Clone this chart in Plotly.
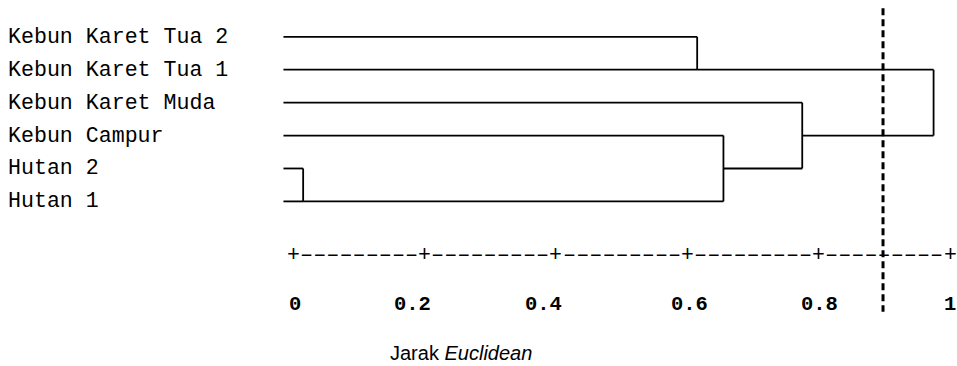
import plotly.graph_objects as go

# ---------------- data ----------------
labels = ["Kebun Karet Tua 2", "Kebun Karet Tua 1", "Kebun Karet Muda",
          "Kebun Campur", "Hutan 2", "Hutan 1"]
# agglomeration schedule (node ids: leaves 0..5, merges 6..10)
merge_a = [4, 0, 3, 2, 7]
merge_b = [5, 1, 6, 8, 9]
merge_dist = [0.015, 0.615, 0.655, 0.775, 0.975]
cut_distance = 0.898
tick_values = [0, 0.2, 0.4, 0.6, 0.8, 1.0]
tick_labels = ["0", "0.2", "0.4", "0.6", "0.8", "1"]
axis_title = "Jarak <i>Euclidean</i>"

# ---------------- layout constants ----------------
W, H = 957, 366
X0, XSCALE = 293.3, 656.7        # pixel of distance 0, pixels per unit
Y0, YSTEP = 36.8, 32.92          # pixel of first row, pixels per row
leaf_start = -0.015
axis_row = 6.63
ticklab_row = 8.12
title_row = 9.62
cut_top, cut_bottom = -0.87, 8.35
tick_shift = [2, -12, -12, 2, 1, 0]
mono = "Liberation Mono"
LW = 1.8

xr = [-X0 / XSCALE, (W - X0) / XSCALE]
yr = [(H - Y0) / YSTEP, -Y0 / YSTEP]

# ---------------- build dendrogram ----------------
n = len(labels)
node_y = {i: i for i in range(n)}
node_x = {i: leaf_start for i in range(n)}
xs, ys = [], []
for k, (a, b, d) in enumerate(zip(merge_a, merge_b, merge_dist)):
    nid = n + k
    for c in (a, b):
        xs += [node_x[c], d, None]
        ys += [node_y[c], node_y[c], None]
    xs += [d, d, None]
    ys += [node_y[a], node_y[b], None]
    mid = (node_y[a] + node_y[b]) / 2
    node_y[nid] = int(-(-mid // 1))  # ceil
    node_x[nid] = d

fig = go.Figure()
fig.add_trace(go.Scatter(x=xs, y=ys, mode="lines",
                         line=dict(color="black", width=LW, shape="linear"),
                         hoverinfo="skip", showlegend=False))

# cut line
fig.add_shape(type="line", x0=cut_distance, x1=cut_distance,
              y0=cut_top, y1=cut_bottom, xref="x", yref="y",
              line=dict(color="black", width=3, dash="7px,4px"))

ann = []
# leaf labels
for i, lab in enumerate(labels):
    ann.append(dict(x=xr[0], y=i, xref="x", yref="y", text=lab,
                    showarrow=False, xanchor="left", yanchor="middle",
                    xshift=6, font=dict(family=mono, size=21.6, color="black")))
# text axis: '+' at ticks, dashes between
for t in tick_values:
    ann.append(dict(x=t, y=axis_row, xref="x", yref="y", text="+",
                    showarrow=False, xanchor="center", yanchor="middle",
                    font=dict(family=mono, size=21.5, color="black")))
for t0, t1 in zip(tick_values[:-1], tick_values[1:]):
    ann.append(dict(x=(t0 + t1) / 2, y=axis_row, xref="x", yref="y",
                    text="\u2013" * 9, showarrow=False, xanchor="center",
                    yanchor="middle",
                    font=dict(family=mono, size=21.9, color="black")))
# tick labels
for t, lab, s in zip(tick_values, tick_labels, tick_shift):
    ann.append(dict(x=t, y=ticklab_row, xref="x", yref="y",
                    text="<b>" + lab + "</b>", showarrow=False,
                    xanchor="center", yanchor="middle", xshift=s,
                    font=dict(family=mono, size=20.5, color="black")))
# axis title
ann.append(dict(x=0.256, y=title_row, xref="x", yref="y", text=axis_title,
                showarrow=False, xanchor="center", yanchor="middle",
                font=dict(family="Liberation Sans, Arial", size=20,
                          color="black")))

fig.update_layout(
    width=W, height=H,
    margin=dict(l=0, r=0, t=0, b=0),
    paper_bgcolor="white", plot_bgcolor="white",
    xaxis=dict(range=xr, visible=False, fixedrange=True),
    yaxis=dict(range=yr, visible=False, fixedrange=True),
    annotations=ann,
    showlegend=False,
)

fig.write_html("out.html",
               config={"displayModeBar": False, "staticPlot": True},
               post_script="document.body.style.margin='0px';"
                           "document.body.style.overflow='hidden';")
